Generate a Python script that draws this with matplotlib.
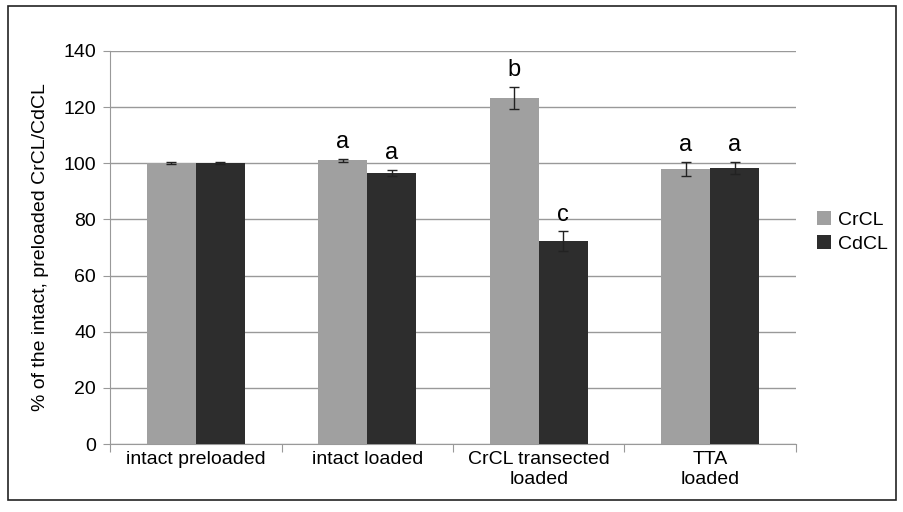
import matplotlib.pyplot as plt
import numpy as np
from matplotlib.patches import Rectangle

plt.rcParams['font.family'] = ['Liberation Sans', 'DejaVu Sans']

categories = ["intact preloaded", "intact loaded", "CrCL transected\nloaded", "TTA\nloaded"]
crcl = [100, 101, 123.3, 98]
crcl_err = [0.3, 0.5, 4, 2.5]
cdcl = [100, 96.6, 72.2, 98.3]
cdcl_err = [0.3, 1.0, 3.5, 2.2]
crcl_letters = ["", "a", "b", "a"]
cdcl_letters = ["", "a", "c", "a"]

fs = 14

fig = plt.figure(figsize=(9.04, 5.12), dpi=100)
ax = fig.add_axes([0.1217, 0.1328, 0.7588, 0.7676])

# outer frame
fig.patches.append(Rectangle((0.009, 0.023), 0.982, 0.965, transform=fig.transFigure,
                             fill=False, edgecolor='#222222', linewidth=1.2))

x = np.arange(len(categories))
w = 0.285
ax.bar(x - w/2, crcl, w, color='#a0a0a0', label='CrCL', zorder=3)
ax.bar(x + w/2, cdcl, w, color='#2d2d2d', label='CdCL', zorder=3)
ax.errorbar(x - w/2, crcl, yerr=crcl_err, fmt='none', ecolor='#222222', capsize=3.5, elinewidth=1, zorder=4)
ax.errorbar(x + w/2, cdcl, yerr=cdcl_err, fmt='none', ecolor='#222222', capsize=3.5, elinewidth=1, zorder=4)

for i in range(len(categories)):
    if crcl_letters[i]:
        ax.text(x[i] - w/2, crcl[i] + crcl_err[i] + 2, crcl_letters[i], ha='center', va='bottom', fontsize=17)
    if cdcl_letters[i]:
        ax.text(x[i] + w/2, cdcl[i] + cdcl_err[i] + 2, cdcl_letters[i], ha='center', va='bottom', fontsize=17)

ax.set_xlim(-0.5, len(categories) - 0.5)
ax.set_ylim(0, 140)
ax.set_yticks(range(0, 141, 20))
ax.yaxis.grid(True, color='#999999', linewidth=1, zorder=0)
ax.set_axisbelow(True)
for s in ['top', 'right']:
    ax.spines[s].set_visible(False)
ax.spines['left'].set_color('#999999')
ax.spines['bottom'].set_color('#999999')
ax.tick_params(axis='y', length=5, color='#999999', labelsize=fs, pad=5)

# category ticks between groups
ax.set_xticks(np.arange(-0.5, len(categories), 1.0))
ax.set_xticklabels([])
ax.tick_params(axis='x', length=6, color='#999999')
ax.set_xticks(x, minor=True)
ax.set_xticklabels(categories, minor=True, fontsize=fs)
ax.tick_params(axis='x', which='minor', length=0, pad=5)

ax.set_ylabel("% of the intact, preloaded CrCL/CdCL", fontsize=fs, labelpad=10)

ax.legend(loc='center left', bbox_to_anchor=(1.005, 0.54), frameon=False, fontsize=fs,
          handlelength=0.75, handleheight=0.75, handletextpad=0.35, labelspacing=0.3)

plt.savefig("out.png", dpi=100)
